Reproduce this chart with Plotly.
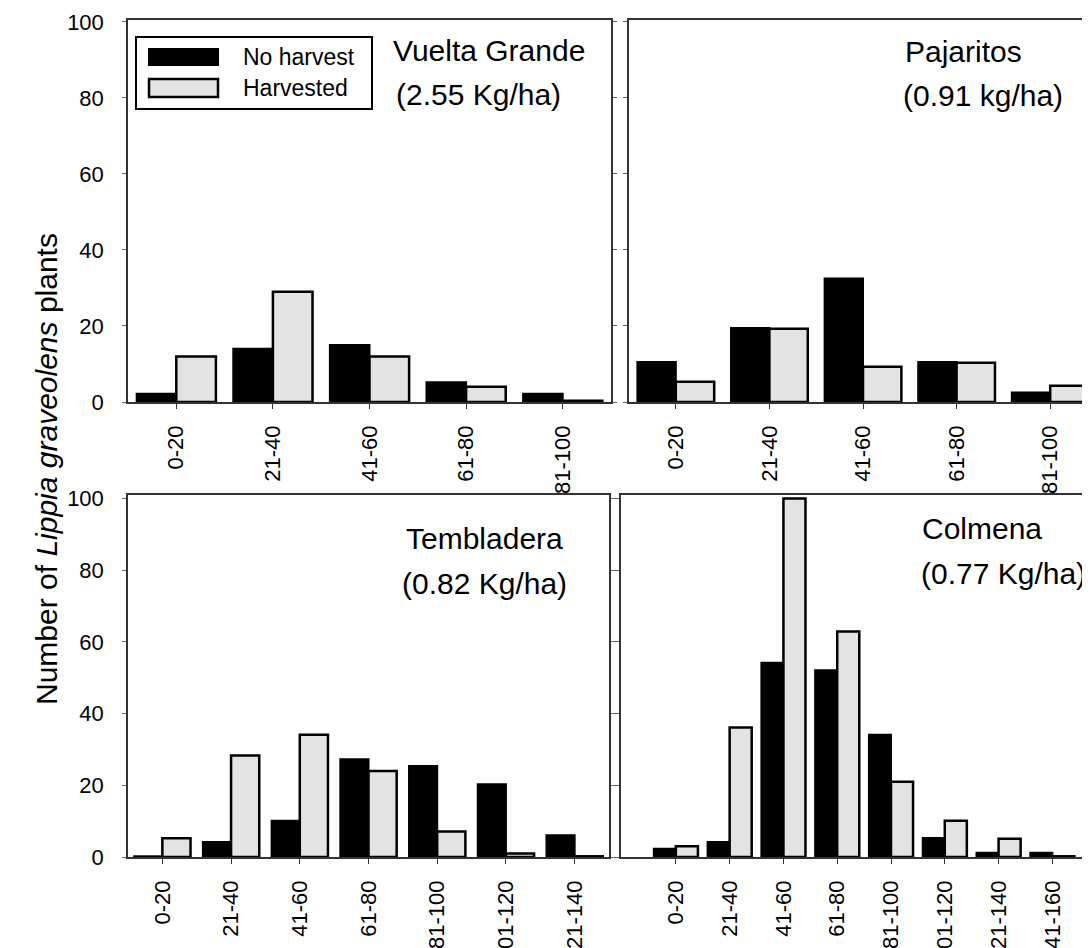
import plotly.graph_objects as go

W, H = 1090, 948

# ---------------- data ----------------
vg_cats = ["0-20", "21-40", "41-60", "61-80", "81-100"]
vg_no_harvest = [2.2, 14, 15, 5.2, 2.2]
vg_harvested = [12, 29, 12, 4, 0.3]

paj_cats = ["0-20", "21-40", "41-60", "61-80", "81-100"]
paj_no_harvest = [10.5, 19.5, 32.5, 10.5, 2.5]
paj_harvested = [5.3, 19.3, 9.3, 10.3, 4.3]

tem_cats = ["0-20", "21-40", "41-60", "61-80", "81-100", "101-120", "121-140"]
tem_no_harvest = [0.2, 4.2, 10.1, 27.3, 25.4, 20.3, 6.1]
tem_harvested = [5.2, 28.3, 34.1, 24.0, 7.1, 1.0, 0.2]

col_cats = ["0-20", "21-40", "41-60", "61-80", "81-100", "101-120", "121-140", "141-160"]
col_no_harvest = [2.3, 4.2, 54.2, 52.1, 34.1, 5.3, 1.2, 1.2]
col_harvested = [3.0, 36.1, 100, 62.9, 21.0, 10.1, 5.1, 0.2]

site_names = ["Vuelta Grande", "Pajaritos", "Tembladera", "Colmena"]
site_yields = ["(2.55 Kg/ha)", "(0.91 kg/ha)", "(0.82 Kg/ha)", "(0.77 Kg/ha)"]
series_names = ["No harvest", "Harvested"]
y_ticks = [0, 20, 40, 60, 80, 100]
y_title = "Number of <i>Lippia graveolens</i> plants"

# ---------------- layout helpers ----------------
def px(x):
    return x / W

def py(y):
    return 1 - y / H

FONT = "Liberation Sans, Arial, sans-serif"
BLACK = "#000000"
GREY = "#e3e3e3"
AXC = "#333333"

panels = [
    dict(cats=vg_cats, no=vg_no_harvest, har=vg_harvested,
         xd=(120, 603), yd=(12, 394), xr=[-0.5, 4.5], yr=[0, 100.5], labels=True,
         name_pos=(383, 43), yield_pos=(386, 86)),
    dict(cats=paj_cats, no=paj_no_harvest, har=paj_harvested,
         xd=(621, 1089), yd=(12, 394), xr=[-0.5, 4.5], yr=[0, 100.5], labels=False,
         name_pos=(895, 44), yield_pos=(893, 88)),
    dict(cats=tem_cats, no=tem_no_harvest, har=tem_harvested,
         xd=(120, 601), yd=(487, 849), xr=[-0.5, 6.5], yr=[0, 101], labels=True,
         name_pos=(396, 530), yield_pos=(392, 575)),
    dict(cats=col_cats, no=col_no_harvest, har=col_harvested,
         xd=(613, 1089), yd=(487, 849), xr=[-1.02, 7.83], yr=[0, 101], labels=False,
         name_pos=(912, 520), yield_pos=(911, 565)),
]

fig = go.Figure()
annotations = []
layout_axes = {}

for i, p in enumerate(panels):
    n = "" if i == 0 else str(i + 1)
    xa, ya = "x" + n, "y" + n
    fig.add_trace(go.Bar(x=p["cats"], y=p["no"], name=series_names[0],
                         xaxis=xa, yaxis=ya, showlegend=False,
                         marker=dict(color=BLACK, line=dict(color=BLACK, width=2))))
    fig.add_trace(go.Bar(x=p["cats"], y=p["har"], name=series_names[1],
                         xaxis=xa, yaxis=ya, showlegend=False,
                         marker=dict(color=GREY, line=dict(color=BLACK, width=2.5))))
    layout_axes["xaxis" + n] = dict(
        domain=[px(p["xd"][0]), px(p["xd"][1])], anchor=ya,
        type="category", range=p["xr"],
        showline=True, linecolor=AXC, linewidth=1.5, mirror=True,
        ticks="outside", ticklen=5, tickwidth=1, tickcolor=AXC,
        tickangle=-90, ticklabelstandoff=8,
        tickfont=dict(family=FONT, size=22, color="black"),
        showgrid=False, zeroline=False, automargin=False, fixedrange=True,
    )
    layout_axes["yaxis" + n] = dict(
        domain=[py(p["yd"][1]), py(p["yd"][0])], anchor=xa,
        range=p["yr"], tickvals=y_ticks, showticklabels=p["labels"],
        showline=True, linecolor=AXC, linewidth=1.5, mirror="ticks",
        ticks="outside", ticklen=4, tickwidth=1, tickcolor="#666666",
        ticklabelstandoff=14,
        tickfont=dict(family=FONT, size=22, color="black"),
        showgrid=False, zeroline=False, automargin=False, fixedrange=True,
    )
    annotations.append(dict(text=site_names[i], x=px(p["name_pos"][0]), y=py(p["name_pos"][1]),
                            xref="paper", yref="paper", xanchor="left", yanchor="middle",
                            showarrow=False, font=dict(family=FONT, size=30, color="black")))
    annotations.append(dict(text=site_yields[i], x=px(p["yield_pos"][0]), y=py(p["yield_pos"][1]),
                            xref="paper", yref="paper", xanchor="left", yanchor="middle",
                            showarrow=False, font=dict(family=FONT, size=30, color="black")))

# y-axis title
annotations.append(dict(text=y_title, x=px(38), y=py(461), xref="paper", yref="paper",
                        xanchor="center", yanchor="middle", textangle=-90, showarrow=False,
                        font=dict(family=FONT, size=30, color="black")))

# legend (drawn box, swatches and labels)
shapes = [
    dict(type="rect", xref="paper", yref="paper", x0=px(128), x1=px(364), y0=py(101), y1=py(29),
         line=dict(color=BLACK, width=2), fillcolor="white", layer="above"),
    dict(type="rect", xref="paper", yref="paper", x0=px(141), x1=px(210), y0=py(57), y1=py(41),
         line=dict(color=BLACK, width=2), fillcolor=BLACK, layer="above"),
    dict(type="rect", xref="paper", yref="paper", x0=px(141), x1=px(210), y0=py(89), y1=py(71),
         line=dict(color=BLACK, width=2.5), fillcolor=GREY, layer="above"),
]
annotations.append(dict(text=series_names[0], x=px(233), y=py(49), xref="paper", yref="paper",
                        xanchor="left", yanchor="middle", showarrow=False,
                        font=dict(family=FONT, size=23, color="black")))
annotations.append(dict(text=series_names[1], x=px(233), y=py(80), xref="paper", yref="paper",
                        xanchor="left", yanchor="middle", showarrow=False,
                        font=dict(family=FONT, size=23, color="black")))

fig.update_layout(
    width=W, height=H,
    margin=dict(l=0, r=0, t=0, b=0, pad=0),
    paper_bgcolor="white", plot_bgcolor="white",
    barmode="group", bargap=0.18, bargroupgap=0,
    showlegend=False,
    annotations=annotations, shapes=shapes,
    font=dict(family=FONT, color="black"),
    **layout_axes,
)

fig.write_html("out.html", config={"displayModeBar": False})
